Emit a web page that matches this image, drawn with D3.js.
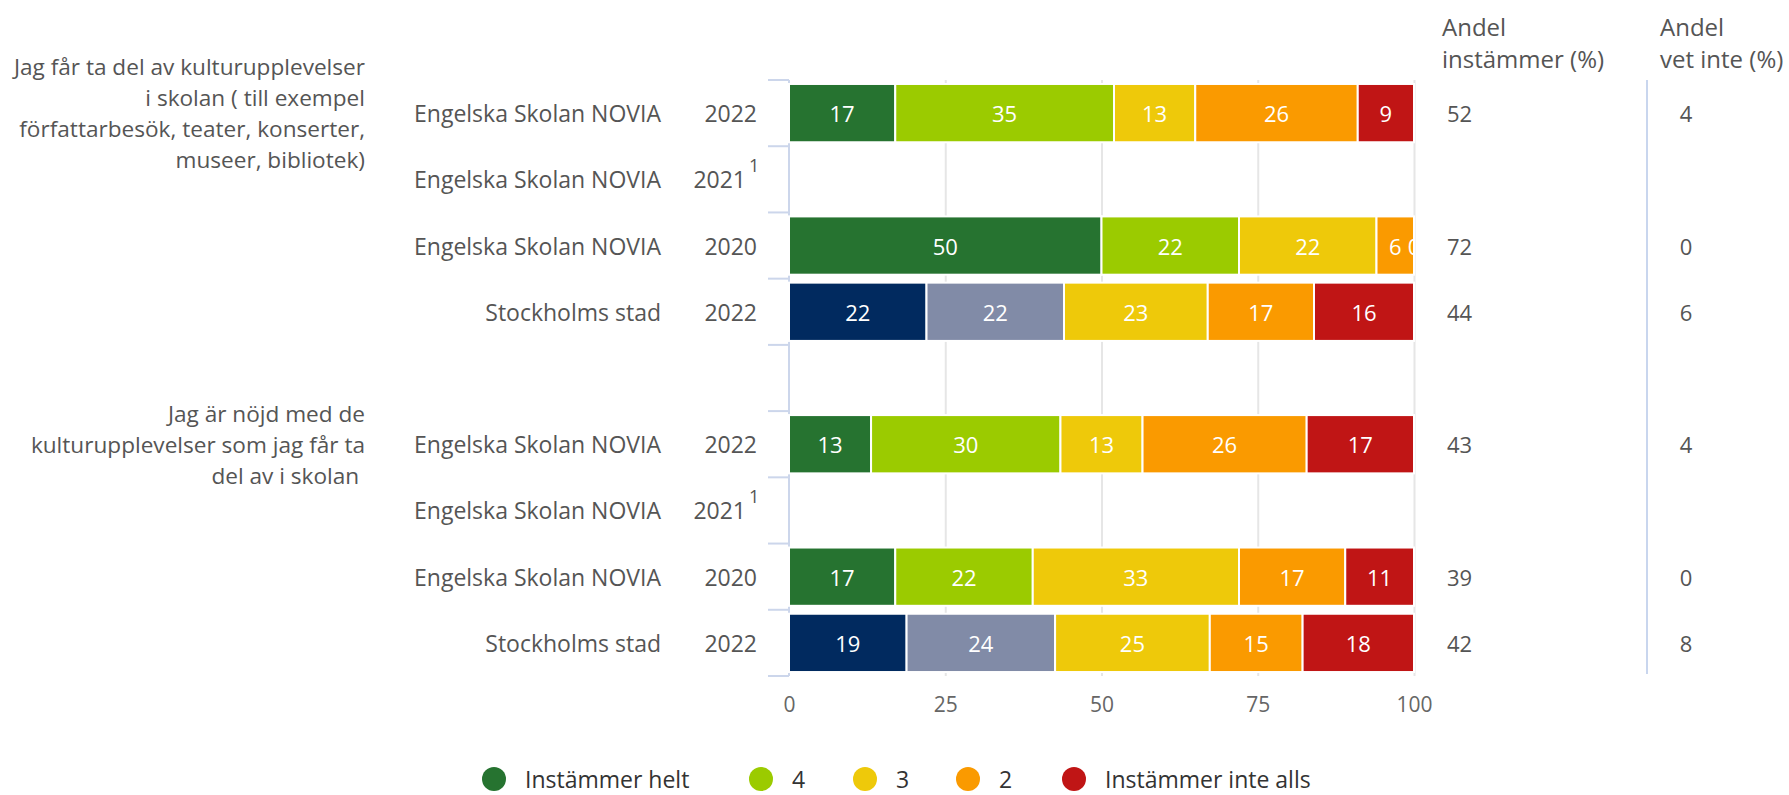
<!DOCTYPE html>
<html>
<head>
<meta charset="utf-8">
<script src="https://cdn.jsdelivr.net/npm/d3@7"></script>
<style>
  html, body { margin: 0; padding: 0; background: #fff; }
  svg { display: block; font-family: "Open Sans", sans-serif; }
  .pre { white-space: pre; }
</style>
</head>
<body>
<svg id="chart" width="1789" height="795"></svg>
<script>
// ---------- DATA ----------
const questions = [
  ["Jag får ta del av kulturupplevelser", "i skolan ( till exempel", "författarbesök, teater, konserter,", "museer, bibliotek)"],
  ["Jag är nöjd med de", "kulturupplevelser som jag får ta", "del av i skolan "]
];
// rows (slot "gap" is the empty separator between the two questions)
const rowUnits = ["Engelska Skolan NOVIA", "Engelska Skolan NOVIA", "Engelska Skolan NOVIA", "Stockholms stad", "gap",
                  "Engelska Skolan NOVIA", "Engelska Skolan NOVIA", "Engelska Skolan NOVIA", "Stockholms stad"];
const rowYears = ["2022", "2021", "2020", "2022", "", "2022", "2021", "2020", "2022"];
const rowNotes = ["", "1", "", "", "", "", "1", "", ""];
const rowIsCity = [false, false, false, true, false, false, false, false, true];

const seriesNames = ["Instämmer helt", "4", "3", "2", "Instämmer inte alls"];
const helt      = [17, null, 50, 22, null, 13, null, 17, 19];
const fyra      = [35, null, 22, 22, null, 30, null, 22, 24];
const tre       = [13, null, 22, 23, null, 13, null, 33, 25];
const tva       = [26, null,  6, 17, null, 26, null, 17, 15];
const inteAlls  = [ 9, null,  0, 16, null, 17, null, 11, 18];
const andelInstammer = [52, null, 72, 44, null, 43, null, 39, 42];
const andelVetInte   = [ 4, null,  0,  6, null,  4, null,  0,  8];

const xTicks = [0, 25, 50, 75, 100];
const headers = [["Andel", "instämmer (%)"], ["Andel", "vet inte (%)"]];

const colors = ["#267330", "#9bcb00", "#eec90a", "#fa9a00", "#c01515"];
const cityColors = ["#012a5f", "#818ba7", "#eec90a", "#fa9a00", "#c01515"];

// ---------- LAYOUT ----------
const svg = d3.select("#chart");
const plotL = 789, plotR = 1414, plotT = 80, plotB = 676;
const x = d3.scaleLinear().domain([0, 100]).range([plotL, plotR]);
const y = d3.scaleBand().domain(d3.range(rowUnits.length)).range([plotT, plotB])
  .paddingInner(0.12).paddingOuter(0.06);
const step = y.step();
const txt = "#555";
const fs = "23px";

// gridlines
const grid = svg.append("g").attr("transform", `translate(0,${plotT})`)
  .call(d3.axisBottom(x).tickValues(xTicks.slice(1)).tickSize(plotB - plotT).tickFormat(""));
grid.select(".domain").remove();
grid.selectAll("line").attr("stroke", "#e6e6e6").attr("stroke-width", 2);

// y axis line and category ticks
svg.append("line").attr("x1", plotL).attr("x2", plotL).attr("y1", plotT).attr("y2", plotB)
  .attr("stroke", "#ccd6eb").attr("stroke-width", 2);
const bounds = d3.range(rowUnits.length + 1).map(i => y.range()[0] + i * step);
svg.append("g").selectAll("line").data(bounds).join("line")
  .attr("x1", plotL - 21).attr("x2", plotL).attr("y1", d => d).attr("y2", d => d)
  .attr("stroke", "#ccd6eb").attr("stroke-width", 2);

// x axis labels
const xa = svg.append("g").attr("transform", `translate(0,${plotB})`)
  .call(d3.axisBottom(x).tickValues(xTicks).tickSize(0).tickPadding(21));
xa.select(".domain").remove();
xa.selectAll("text").attr("fill", "#666").style("font-size", "21px").style("font-family", "Open Sans, sans-serif");

// stacked bars
const seriesVals = [helt, fyra, tre, tva, inteAlls];
svg.append("clipPath").attr("id", "plotclip").append("rect")
  .attr("x", plotL).attr("y", plotT).attr("width", plotR - plotL + 1).attr("height", plotB - plotT);
const barG = svg.append("g");
const labelG = svg.append("g").attr("clip-path", "url(#plotclip)");
rowUnits.forEach((u, r) => {
  if (helt[r] == null) return;
  const vals = seriesVals.map(s => s[r]);
  const total = d3.sum(vals);
  let cum = 0;
  vals.forEach((v, k) => {
    const x0 = x(cum / total * 100);
    cum += v;
    const x1 = x(cum / total * 100);
    barG.append("rect")
      .attr("x", x0).attr("y", y(r)).attr("width", Math.max(0, x1 - x0)).attr("height", y.bandwidth())
      .attr("fill", (rowIsCity[r] ? cityColors : colors)[k])
      .attr("stroke", "#fff").attr("stroke-width", 2);
    labelG.append("text")
      .attr("x", (x0 + x1) / 2).attr("y", y(r) + y.bandwidth() / 2)
      .attr("text-anchor", "middle").attr("dominant-baseline", "central")
      .attr("fill", "#fff").style("font-size", "22px")
      .text(v);
  });
});

// row labels
rowUnits.forEach((u, r) => {
  if (u === "gap") return;
  const cy = y(r) + y.bandwidth() / 2;
  svg.append("text").attr("x", 661).attr("y", cy).attr("text-anchor", "end")
    .attr("dominant-baseline", "central").attr("fill", txt).style("font-size", fs).text(u);
  const yt = svg.append("text").attr("x", 757).attr("y", cy).attr("text-anchor", "end")
    .attr("dominant-baseline", "central").attr("fill", txt).style("font-size", fs);
  if (rowNotes[r]) {
    yt.attr("x", 746).text(rowYears[r]);
    svg.append("text").attr("x", 749).attr("y", cy - 14).attr("dominant-baseline", "central")
      .attr("fill", txt).style("font-size", "18px").text(rowNotes[r]);
  } else {
    yt.text(rowYears[r]);
  }
  if (andelInstammer[r] != null) {
    svg.append("text").attr("x", 1447).attr("y", cy).attr("dominant-baseline", "central")
      .attr("fill", txt).style("font-size", "22px").text(andelInstammer[r]);
    svg.append("text").attr("x", 1686).attr("y", cy).attr("text-anchor", "middle")
      .attr("dominant-baseline", "central").attr("fill", txt).style("font-size", "22px").text(andelVetInte[r]);
  }
});

// question labels (centered on the first row of each group)
const groupFirst = [0, 5];
questions.forEach((lines, q) => {
  const cy = y(groupFirst[q]) + y.bandwidth() / 2;
  const lh = 31;
  const top = cy - (lines.length - 1) * lh / 2;
  lines.forEach((l, i) => {
    svg.append("text").attr("class", "pre").attr("x", 365).attr("y", top + i * lh)
      .attr("text-anchor", "end").attr("dominant-baseline", "central")
      .attr("fill", txt).style("font-size", "22.6px").text(l);
  });
});

// right column headers and separator
const headerX = [1442, 1660];
headers.forEach((h, i) => {
  h.forEach((l, j) => {
    svg.append("text").attr("x", headerX[i]).attr("y", 36 + j * 32)
      .attr("fill", txt).style("font-size", "24px").text(l);
  });
});
svg.append("line").attr("x1", 1647).attr("x2", 1647).attr("y1", 80).attr("y2", 674)
  .attr("stroke", "#c9d6ee").attr("stroke-width", 2);

// legend
const legX = [494, 761, 865, 968, 1074];
const legG = svg.append("g");
seriesNames.forEach((n, i) => {
  legG.append("circle").attr("cx", legX[i]).attr("cy", 779).attr("r", 12).attr("fill", colors[i]);
  legG.append("text").attr("x", legX[i] + 31).attr("y", 779).attr("dominant-baseline", "central")
    .attr("fill", "#333").style("font-size", "23px").text(n);
});
</script>
</body>
</html>
